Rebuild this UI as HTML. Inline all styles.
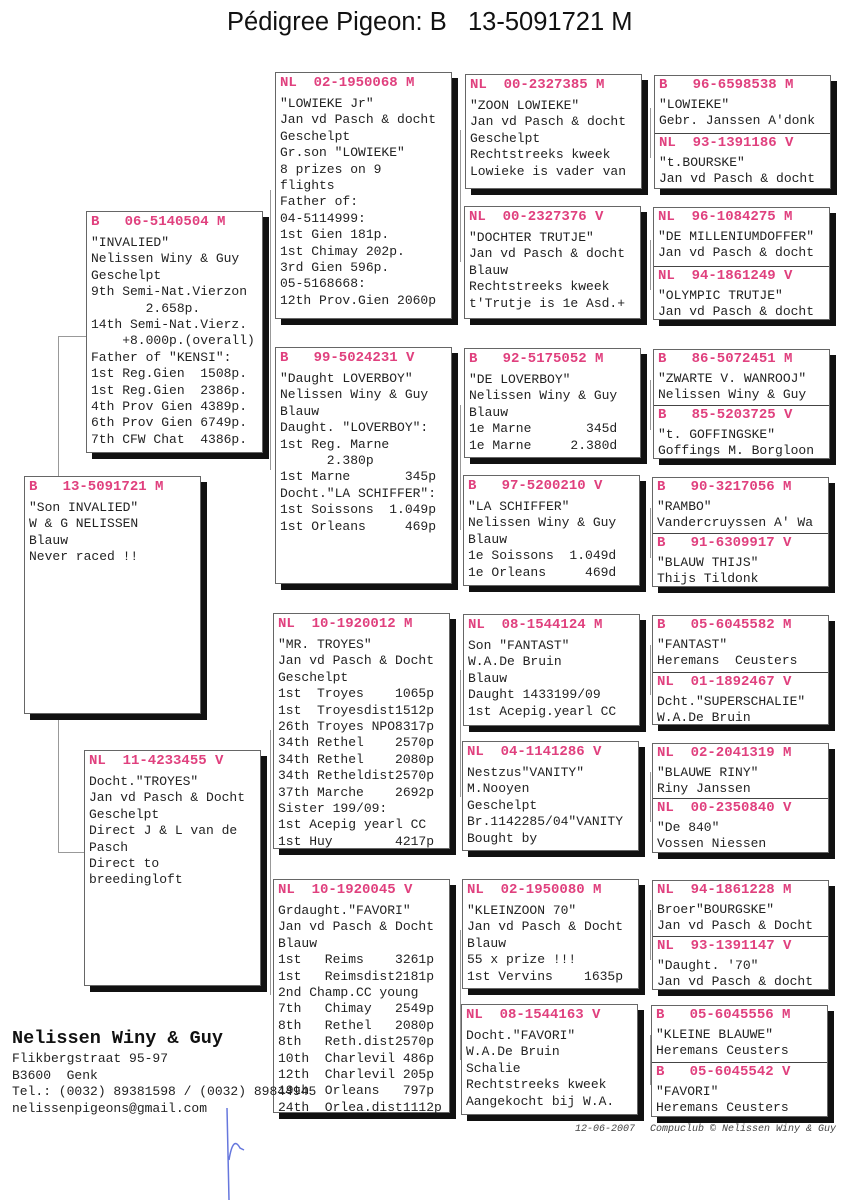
<!DOCTYPE html>
<html><head><meta charset="utf-8">
<style>
*{margin:0;padding:0;box-sizing:border-box}
body{width:850px;height:1200px;background:#fff;position:relative;overflow:hidden;font-family:"Liberation Mono",monospace;font-size:13px;color:#222}
.t{position:absolute;left:227px;top:8px;font-family:"Liberation Sans",sans-serif;font-size:25.5px;color:#111;white-space:pre}
.b{position:absolute;background:#fff;border:1px solid #666;box-shadow:6px 6px 0 #111;padding:2px 4px;white-space:pre;line-height:16.4px}
.h{color:#e0407e;font-weight:bold;font-size:14px;line-height:17px;margin-bottom:4px}
.d{position:absolute;left:0;right:0;border-top:1px solid #444}
.s{position:absolute;left:4px;white-space:pre;line-height:16px}
.s .h{margin-bottom:3px}
.l{position:absolute;background:#999}
.foot{position:absolute;left:12px;white-space:pre}
</style></head><body>
<div class="t">Pédigree Pigeon: B   13-5091721 M</div>

<!-- connectors -->
<div class="l" style="left:58px;top:336px;width:1px;height:517px"></div>
<div class="l" style="left:58px;top:336px;width:28px;height:1px"></div>
<div class="l" style="left:58px;top:852px;width:26px;height:1px"></div>
<div class="l" style="left:270px;top:190px;width:1px;height:280px"></div>
<div class="l" style="left:270px;top:730px;width:1px;height:265px"></div>
<div class="l" style="left:460px;top:130px;width:1px;height:132px"></div>
<div class="l" style="left:460px;top:405px;width:1px;height:125px"></div>
<div class="l" style="left:460px;top:670px;width:1px;height:127px"></div>
<div class="l" style="left:460px;top:930px;width:1px;height:130px"></div>
<div class="l" style="left:650px;top:108px;width:1px;height:50px"></div>
<div class="l" style="left:650px;top:240px;width:1px;height:50px"></div>
<div class="l" style="left:650px;top:380px;width:1px;height:50px"></div>
<div class="l" style="left:650px;top:508px;width:1px;height:50px"></div>
<div class="l" style="left:650px;top:645px;width:1px;height:50px"></div>
<div class="l" style="left:650px;top:772px;width:1px;height:50px"></div>
<div class="l" style="left:650px;top:910px;width:1px;height:50px"></div>
<div class="l" style="left:650px;top:1035px;width:1px;height:50px"></div>

<!-- subject -->
<div class="b" style="left:24px;top:476px;width:177px;height:238px"><div class="h">B   13-5091721 M</div>"Son INVALIED"
W &amp; G NELISSEN
Blauw
Never raced !!</div>

<!-- col2 -->
<div class="b" style="left:86px;top:211px;width:177px;height:242px"><div class="h">B   06-5140504 M</div>"INVALIED"
Nelissen Winy &amp; Guy
Geschelpt
9th Semi-Nat.Vierzon
       2.658p.
14th Semi-Nat.Vierz.
    +8.000p.(overall)
Father of "KENSI":
1st Reg.Gien  1508p.
1st Reg.Gien  2386p.
4th Prov Gien 4389p.
6th Prov Gien 6749p.
7th CFW Chat  4386p.</div>
<div class="b" style="left:84px;top:750px;width:177px;height:236px"><div class="h">NL  11-4233455 V</div>Docht."TROYES"
Jan vd Pasch &amp; Docht
Geschelpt
Direct J &amp; L van de
Pasch
Direct to
breedingloft</div>

<!-- col3 -->
<div class="b" style="left:275px;top:72px;width:177px;height:247px"><div class="h">NL  02-1950068 M</div>"LOWIEKE Jr"
Jan vd Pasch &amp; docht
Geschelpt
Gr.son "LOWIEKE"
8 prizes on 9
flights
Father of:
04-5114999:
1st Gien 181p.
1st Chimay 202p.
3rd Gien 596p.
05-5168668:
12th Prov.Gien 2060p</div>
<div class="b" style="left:275px;top:347px;width:177px;height:237px"><div class="h">B   99-5024231 V</div>"Daught LOVERBOY"
Nelissen Winy &amp; Guy
Blauw
Daught. "LOVERBOY":
1st Reg. Marne
      2.380p
1st Marne       345p
Docht."LA SCHIFFER":
1st Soissons  1.049p
1st Orleans     469p</div>
<div class="b" style="left:273px;top:613px;width:177px;height:236px"><div class="h">NL  10-1920012 M</div>"MR. TROYES"
Jan vd Pasch &amp; Docht
Geschelpt
1st  Troyes    1065p
1st  Troyesdist1512p
26th Troyes NPO8317p
34th Rethel    2570p
34th Rethel    2080p
34th Retheldist2570p
37th Marche    2692p
Sister 199/09:
1st Acepig yearl CC
1st Huy        4217p</div>
<div class="b" style="left:273px;top:879px;width:177px;height:234px"><div class="h">NL  10-1920045 V</div>Grdaught."FAVORI"
Jan vd Pasch &amp; Docht
Blauw
1st   Reims    3261p
1st   Reimsdist2181p
2nd Champ.CC young
7th   Chimay   2549p
8th   Rethel   2080p
8th   Reth.dist2570p
10th  Charlevil 486p
12th  Charlevil 205p
19th  Orleans   797p
24th  Orlea.dist1112p</div>

<!-- col4 -->
<div class="b" style="left:465px;top:74px;width:177px;height:115px"><div class="h">NL  00-2327385 M</div>"ZOON LOWIEKE"
Jan vd Pasch &amp; docht
Geschelpt
Rechtstreeks kweek
Lowieke is vader van</div>
<div class="b" style="left:464px;top:206px;width:177px;height:113px"><div class="h">NL  00-2327376 V</div>"DOCHTER TRUTJE"
Jan vd Pasch &amp; docht
Blauw
Rechtstreeks kweek
t'Trutje is 1e Asd.+</div>
<div class="b" style="left:464px;top:348px;width:177px;height:110px"><div class="h">B   92-5175052 M</div>"DE LOVERBOY"
Nelissen Winy &amp; Guy
Blauw
1e Marne       345d
1e Marne     2.380d</div>
<div class="b" style="left:463px;top:475px;width:177px;height:111px"><div class="h">B   97-5200210 V</div>"LA SCHIFFER"
Nelissen Winy &amp; Guy
Blauw
1e Soissons  1.049d
1e Orleans     469d</div>
<div class="b" style="left:463px;top:614px;width:177px;height:112px"><div class="h">NL  08-1544124 M</div>Son "FANTAST"
W.A.De Bruin
Blauw
Daught 1433199/09
1st Acepig.yearl CC</div>
<div class="b" style="left:462px;top:741px;width:177px;height:110px"><div class="h">NL  04-1141286 V</div>Nestzus"VANITY"
M.Nooyen
Geschelpt
Br.1142285/04"VANITY
Bought by</div>
<div class="b" style="left:462px;top:879px;width:177px;height:110px"><div class="h">NL  02-1950080 M</div>"KLEINZOON 70"
Jan vd Pasch &amp; Docht
Blauw
55 x prize !!!
1st Vervins    1635p</div>
<div class="b" style="left:461px;top:1004px;width:177px;height:111px"><div class="h">NL  08-1544163 V</div>Docht."FAVORI"
W.A.De Bruin
Schalie
Rechtstreeks kweek
Aangekocht bij W.A.</div>

<!-- col5 -->
<div class="b" style="left:654px;top:75px;width:177px;height:114px;padding:0">
 <div class="s" style="top:1px"><div class="h">B   96-6598538 M</div>"LOWIEKE"
Gebr. Janssen A'donk</div>
 <div class="d" style="top:57px"></div>
 <div class="s" style="top:59px"><div class="h">NL  93-1391186 V</div>"t.BOURSKE"
Jan vd Pasch &amp; docht</div></div>
<div class="b" style="left:653px;top:207px;width:177px;height:113px;padding:0">
 <div class="s" style="top:1px"><div class="h">NL  96-1084275 M</div>"DE MILLENIUMDOFFER"
Jan vd Pasch &amp; docht</div>
 <div class="d" style="top:58px"></div>
 <div class="s" style="top:60px"><div class="h">NL  94-1861249 V</div>"OLYMPIC TRUTJE"
Jan vd Pasch &amp; docht</div></div>
<div class="b" style="left:653px;top:349px;width:177px;height:110px;padding:0">
 <div class="s" style="top:1px"><div class="h">B   86-5072451 M</div>"ZWARTE V. WANROOJ"
Nelissen Winy &amp; Guy</div>
 <div class="d" style="top:55px"></div>
 <div class="s" style="top:57px"><div class="h">B   85-5203725 V</div>"t. GOFFINGSKE"
Goffings M. Borgloon</div></div>
<div class="b" style="left:652px;top:477px;width:177px;height:110px;padding:0">
 <div class="s" style="top:1px"><div class="h">B   90-3217056 M</div>"RAMBO"
Vandercruyssen A' Wa</div>
 <div class="d" style="top:55px"></div>
 <div class="s" style="top:57px"><div class="h">B   91-6309917 V</div>"BLAUW THIJS"
Thijs Tildonk</div></div>
<div class="b" style="left:652px;top:615px;width:177px;height:110px;padding:0">
 <div class="s" style="top:1px"><div class="h">B   05-6045582 M</div>"FANTAST"
Heremans  Ceusters</div>
 <div class="d" style="top:56px"></div>
 <div class="s" style="top:58px"><div class="h">NL  01-1892467 V</div>Dcht."SUPERSCHALIE"
W.A.De Bruin</div></div>
<div class="b" style="left:652px;top:743px;width:177px;height:110px;padding:0">
 <div class="s" style="top:1px"><div class="h">NL  02-2041319 M</div>"BLAUWE RINY"
Riny Janssen</div>
 <div class="d" style="top:54px"></div>
 <div class="s" style="top:56px"><div class="h">NL  00-2350840 V</div>"De 840"
Vossen Niessen</div></div>
<div class="b" style="left:652px;top:880px;width:177px;height:110px;padding:0">
 <div class="s" style="top:1px"><div class="h">NL  94-1861228 M</div>Broer"BOURGSKE"
Jan vd Pasch &amp; Docht</div>
 <div class="d" style="top:55px"></div>
 <div class="s" style="top:57px"><div class="h">NL  93-1391147 V</div>"Daught. '70"
Jan vd Pasch &amp; docht</div></div>
<div class="b" style="left:651px;top:1005px;width:177px;height:112px;padding:0">
 <div class="s" style="top:1px"><div class="h">B   05-6045556 M</div>"KLEINE BLAUWE"
Heremans Ceusters</div>
 <div class="d" style="top:56px"></div>
 <div class="s" style="top:58px"><div class="h">B   05-6045542 V</div>"FAVORI"
Heremans Ceusters</div></div>

<!-- footer -->
<div class="foot" style="top:1028px;font-weight:bold;font-size:18.5px;color:#111">Nelissen Winy &amp; Guy</div>
<div class="foot" style="top:1051px;line-height:16.5px;font-size:13px">Flikbergstraat 95-97
B3600  Genk
Tel.: (0032) 89381598 / (0032) 89844945
nelissenpigeons@gmail.com</div>
<div style="position:absolute;left:575px;top:1124px;font-size:10px;font-style:italic;color:#444;white-space:pre">12-06-2007</div>
<div style="position:absolute;left:650px;top:1124px;font-size:10px;font-style:italic;color:#444;white-space:pre">Compuclub © Nelissen Winy &amp; Guy</div>
<svg style="position:absolute;left:0;top:0" width="850" height="1200"><path d="M227 1108 L229 1200 M229 1160 Q233 1135 240 1148 L244 1150" stroke="#6677dd" stroke-width="1.5" fill="none"/></svg>
</body></html>
